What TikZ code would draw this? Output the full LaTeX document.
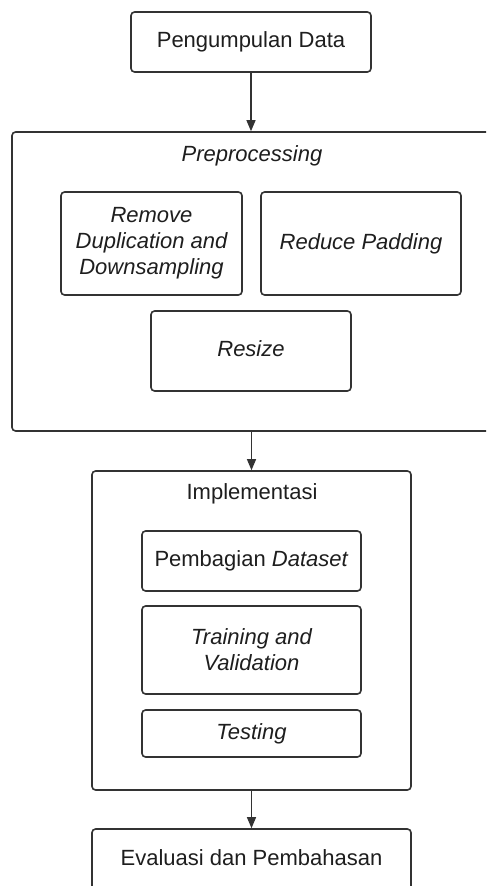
\documentclass[tikz,border=0pt]{standalone}
\usepackage{fontspec}
\setmainfont{Liberation Sans}
\usetikzlibrary{arrows.meta}
\definecolor{ln}{HTML}{333333}
\definecolor{tx}{HTML}{1E1E1E}
\begin{document}
\begin{tikzpicture}[x=0.5pt,y=-0.5pt,
  box/.style={draw=ln, line width=0.8pt, rounded corners=1.8pt, inner sep=0pt, align=center, text=tx, font=\fontsize{11}{13}\selectfont},
  lbl/.style={inner sep=0pt, text=tx, font=\fontsize{11}{13}\selectfont},
  arr/.style={draw=ln, line width=0.6pt, -{Triangle[length=5.5pt,width=4.5pt]}}]
\useasboundingbox (0,0) rectangle (486,886);
\fill[white] (0,0) rectangle (486,886);
\clip (0,0) rectangle (486,886);
% top
\node[box, minimum width=120pt, minimum height=30pt] (pd) at (251,42) {Pengumpulan Data};
% preprocessing
\node[box, minimum width=243pt, minimum height=149.5pt] (pre) at (255,281.5) {};
\node[lbl] (prel) at (252,156) {\itshape Preprocessing};
\node[box, minimum width=90.5pt, minimum height=51.5pt] (rem) at (151.5,243.5) {\itshape Remove\\\itshape Duplication and\\\itshape Downsampling};
\node[box, minimum width=100pt, minimum height=51.5pt] (red) at (361,243.5) {\itshape Reduce Padding};
\node[box, minimum width=100pt, minimum height=40pt] (res) at (251,351) {\raisebox{2pt}{\itshape Resize}};
% implementasi
\node[box, minimum width=159.5pt, minimum height=159.5pt] (imp) at (251.5,630.5) {};
\node[lbl] (impl) at (252,494) {Implementasi};
\node[box, minimum width=109.5pt, minimum height=30pt] (pem) at (251.5,561) {\raisebox{1.5pt}{Pembagian \textit{Dataset}}};
\node[box, minimum width=109.5pt, minimum height=44pt] (tra) at (251.5,650) {\itshape Training and\\\itshape Validation};
\node[box, minimum width=109.5pt, minimum height=23.5pt] (tes) at (251.5,733.5) {\itshape Testing};
% evaluasi
\node[box, minimum width=159.5pt, minimum height=31pt] (eva) at (251.5,860) {\raisebox{2pt}{Evaluasi dan Pembahasan}};
% arrows
\draw[arr] (pd.south) -- (pd.south |- pre.north);
\draw[arr] (imp.north |- pre.south) -- (imp.north);
\draw[arr] (imp.south) -- (eva.north);
\end{tikzpicture}
\end{document}
